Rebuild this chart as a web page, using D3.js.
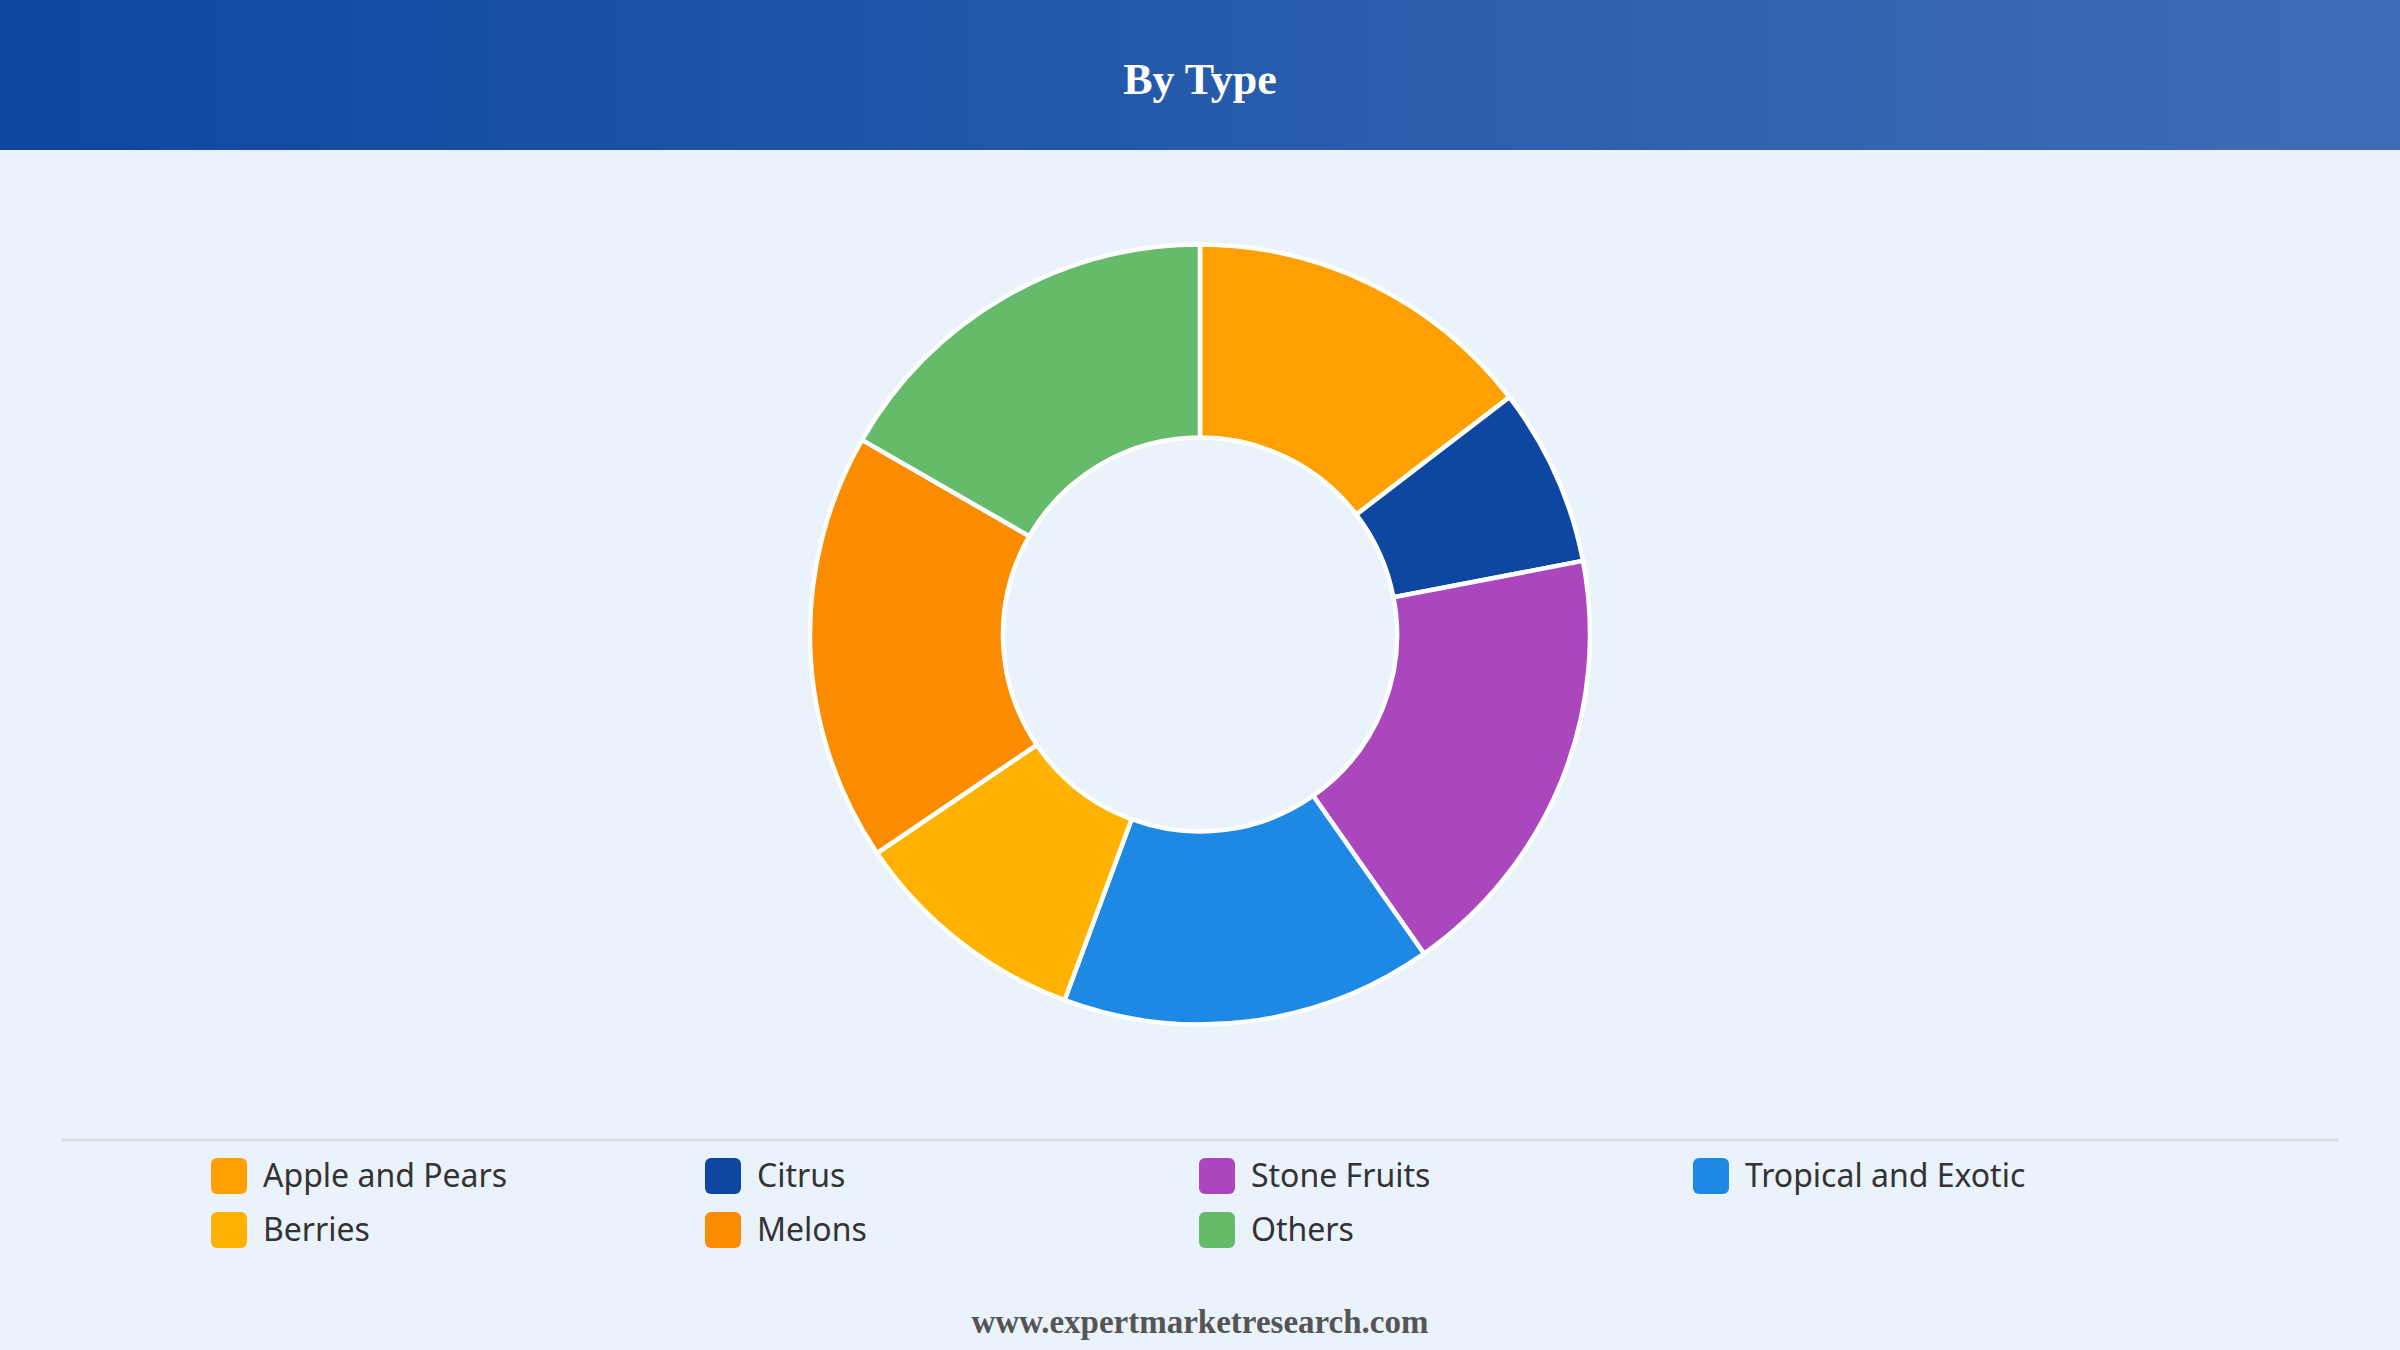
<!DOCTYPE html>
<html>
<head>
<meta charset="utf-8">
<script src="https://cdn.jsdelivr.net/npm/d3@7"></script>
<style>
  html, body { margin: 0; padding: 0; background: #eaf2fb; }
  #chart { width: 2400px; height: 1350px; }
</style>
</head>
<body>
<div id="chart"></div>
<script>
// By Type - donut
const categories = ['Apple and Pears', 'Citrus', 'Stone Fruits', 'Tropical and Exotic', 'Berries', 'Melons', 'Others'];
const values = [14.6, 7.4, 18.3, 15.4, 9.9, 17.8, 16.7];
const colors = ['#FFA000', '#0D47A1', '#AB47BC', '#1E88E5', '#FFB300', '#FB8C00', '#66BB6A'];
const title = 'By Type';
const footer = 'www.expertmarketresearch.com';

const width = 2400, height = 1350;
const svg = d3.select('#chart').append('svg')
  .attr('width', width)
  .attr('height', height)
  .attr('viewBox', [0, 0, width, height]);

// fondo
svg.append('rect').attr('width', width).attr('height', height).attr('fill', '#eaf2fb');

// --- cabecera ---
const grad = svg.append('defs').append('linearGradient')
  .attr('id', 'hdr').attr('x1', '0%').attr('x2', '100%').attr('y1', '0%').attr('y2', '0%');
grad.append('stop').attr('offset', '0%').attr('stop-color', '#0d47a1');
grad.append('stop').attr('offset', '100%').attr('stop-color', '#3f6db5');
svg.append('rect').attr('width', width).attr('height', 150).attr('fill', 'url(#hdr)');
svg.append('text')
  .attr('x', width / 2).attr('y', 84)
  .attr('text-anchor', 'middle').attr('dominant-baseline', 'middle')
  .attr('fill', '#fff')
  .attr('font-family', '"Liberation Serif", "DejaVu Serif", serif')
  .attr('font-weight', 'bold').attr('font-size', '44px')
  .text(title);

// --- donut ---
const cx = 1200, cy = 634.5, outerR = 390, innerR = 197;
const pie = d3.pie().sort(null).value(d => d.value);
const arc = d3.arc().innerRadius(innerR).outerRadius(outerR);
const data = categories.map((c, i) => ({ name: c, value: values[i] }));
const color = d3.scaleOrdinal().domain(categories).range(colors);

svg.append('g').attr('transform', `translate(${cx},${cy})`)
  .selectAll('path')
  .data(pie(data))
  .join('path')
  .attr('d', arc)
  .attr('fill', d => color(d.data.name))
  .attr('stroke', '#fff')
  .attr('stroke-width', 4.5);

// --- leyenda ---
svg.append('line')
  .attr('x1', 61).attr('x2', 2339).attr('y1', 1140).attr('y2', 1140)
  .attr('stroke', '#dcdfe4').attr('stroke-width', 3);

const cols = 4;
const colX = d3.scaleLinear().domain([0, 1]).range([211, 705]);
const rowY = d3.scaleLinear().domain([0, 1]).range([1176, 1230]);
const items = svg.append('g')
  .selectAll('g')
  .data(categories)
  .join('g')
  .attr('transform', (d, i) => `translate(${colX(i % cols)},${rowY(Math.floor(i / cols))})`);
items.append('rect')
  .attr('x', 0).attr('y', -18).attr('width', 36).attr('height', 36)
  .attr('rx', 6).attr('ry', 6)
  .attr('fill', d => color(d));
items.append('text')
  .attr('x', 52).attr('y', 2.5)
  .attr('dominant-baseline', 'middle')
  .attr('fill', '#333')
  .attr('font-family', '"Noto Sans", "Open Sans", sans-serif')
  .attr('font-size', '32px')
  .text(d => d);

// --- pie de página ---
svg.append('text')
  .attr('x', width / 2).attr('y', 1325)
  .attr('text-anchor', 'middle').attr('dominant-baseline', 'middle')
  .attr('fill', '#555')
  .attr('font-family', '"Liberation Serif", "DejaVu Serif", serif')
  .attr('font-weight', 'bold').attr('font-size', '33px')
  .text(footer);
</script>
</body>
</html>
